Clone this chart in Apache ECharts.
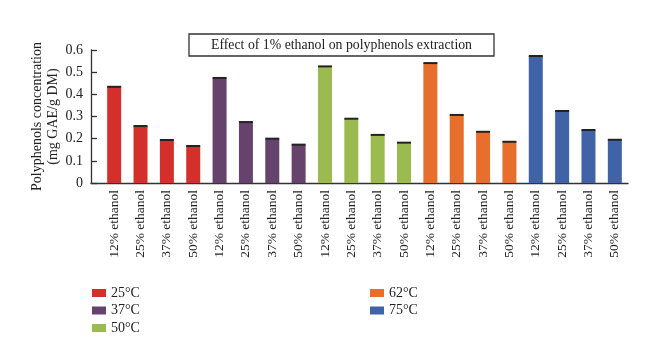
<!DOCTYPE html>
<html>
<head>
<meta charset="utf-8">
<script src="https://cdn.jsdelivr.net/npm/echarts@6/dist/echarts.min.js"></script>
<style>html,body{margin:0;padding:0;background:#fff}#c{width:660px;height:364px}</style>
</head>
<body>
<div id="c"></div>
<script>
var categories = ['12% ethanol','25% ethanol','37% ethanol','50% ethanol'];
var temperatures = ['25°C','37°C','50°C','62°C','75°C'];
var v25 = [0.434, 0.257, 0.194, 0.167];
var v37 = [0.474, 0.275, 0.200, 0.173];
var v50 = [0.526, 0.290, 0.217, 0.182];
var v62 = [0.541, 0.307, 0.231, 0.186];
var v75 = [0.573, 0.325, 0.239, 0.195];
var errs = [0.003, 0.002, 0.002, 0.002];
var yTicks = [0, 0.1, 0.2, 0.3, 0.4, 0.5, 0.6];
var colors = ['#d3302b', '#65436c', '#9bbb51', '#e86e2e', '#3f63a6'];

var groups = [v25, v37, v50, v62, v75];
var xcats = [];
groups.forEach(function(){ categories.forEach(function(c){ xcats.push(c); }); });
var FONT = '"Liberation Serif", "DejaVu Serif", serif';

var series = groups.map(function(g, gi){
  var d = xcats.map(function(){ return '-'; });
  g.forEach(function(v, k){ d[gi*4 + k] = v; });
  return {
    name: temperatures[gi], type: 'bar', data: d,
    xAxisIndex: 0, yAxisIndex: 0,
    barWidth: 14, barGap: '-100%',
    itemStyle: { color: colors[gi] }
  };
});
var errData = [];
groups.forEach(function(g, gi){ g.forEach(function(v, k){ errData.push([gi*4+k, v, errs[k]]); }); });
series.push({
  type: 'custom', xAxisIndex: 0, yAxisIndex: 0, data: errData, z: 5,
  renderItem: function(params, api){
    var x = api.value(0), v = api.value(1), e = api.value(2);
    var p1 = api.coord([x, v + e]), p2 = api.coord([x, v - e]);
    var h = Math.max(2, p2[1] - p1[1]);
    return { type: 'rect', shape: { x: p1[0] - 7, y: (p1[1]+p2[1])/2 - h/2, width: 14, height: h }, style: { fill: '#222' } };
  }
});

var chart = echarts.init(document.getElementById('c'), null, { renderer: 'canvas' });
chart.setOption({
  animation: false,
  textStyle: { fontFamily: FONT },
  grid: [
    { left: 101, right: 32, top: 50, bottom: 181 },
    { left: 91, right: 32, top: 50, bottom: 181 }
  ],
  xAxis: [
    { type: 'category', gridIndex: 0, data: xcats,
      axisLine: { show: false }, axisTick: { show: false },
      axisLabel: { rotate: 90, interval: 0, margin: 7, color: '#222', fontSize: 13.5, fontFamily: FONT } },
    { type: 'value', gridIndex: 1, min: 0, max: 1,
      axisLine: { show: true, lineStyle: { color: '#333', width: 1.3 } },
      axisTick: { show: false }, axisLabel: { show: false }, splitLine: { show: false } }
  ],
  yAxis: [
    { type: 'value', gridIndex: 0, min: 0, max: 0.6, show: false },
    { type: 'value', gridIndex: 1, min: yTicks[0], max: yTicks[yTicks.length-1], interval: 0.1,
      name: 'Polyphenols concentration\n(mg GAE/g DM)', nameLocation: 'middle', nameGap: 30, nameMoveOverlap: false,
      nameTextStyle: { fontSize: 14, color: '#222', fontFamily: FONT, lineHeight: 15.5 },
      axisLine: { show: true, lineStyle: { color: '#333', width: 1.3 } },
      axisTick: { show: true, inside: true, length: 6, lineStyle: { color: '#333', width: 1.3 } },
      axisLabel: { color: '#222', fontSize: 14, fontFamily: FONT, margin: 8 },
      splitLine: { show: false } }
  ],
  legend: [
    { data: temperatures.slice(0,3), orient: 'vertical', left: 87, top: 281, itemWidth: 14, itemHeight: 8, itemGap: 3.5,
      icon: 'rect', textStyle: { fontSize: 14, color: '#222', fontFamily: FONT } },
    { data: temperatures.slice(3), orient: 'vertical', left: 365, top: 281, itemWidth: 14, itemHeight: 8, itemGap: 3.5,
      icon: 'rect', textStyle: { fontSize: 14, color: '#222', fontFamily: FONT } }
  ],
  graphic: [
    { type: 'rect', shape: { x: 189, y: 34, width: 305, height: 22 }, style: { fill: '#fff', stroke: '#333', lineWidth: 1.3 }, z: 10 },
    { type: 'text', x: 341.5, y: 45, z: 11, style: { text: 'Effect of 1% ethanol on polyphenols extraction', fontSize: 13.8, fontFamily: FONT, fill: '#222', align: 'center', verticalAlign: 'middle' } }
  ],
  series: series
});
</script>
</body>
</html>
